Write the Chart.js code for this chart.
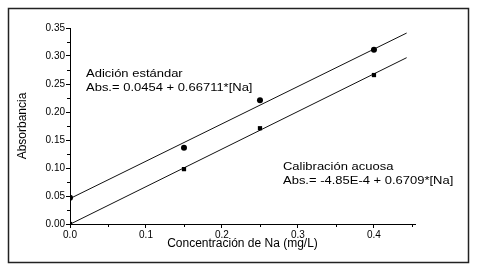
<!DOCTYPE html>
<html>
<head>
<meta charset="utf-8">
<script src="https://cdn.jsdelivr.net/npm/chart.js@4.4.1/dist/chart.umd.min.js"></script>
<style>
  html, body { margin: 0; padding: 0; background: #fff; }
  #wrap { width: 487px; height: 270px; position: relative; }
</style>
</head>
<body>
<div id="wrap"><canvas id="grafico"></canvas></div>
<script>
// puntos medidos
const concAdicion = [0, 0.15, 0.25, 0.4];
const absAdicion = [0.047, 0.136, 0.221, 0.311];
const concAcuosa = [0, 0.15, 0.25, 0.4];
const absAcuosa = [0.0, 0.098, 0.171, 0.266];

// rectas de ajuste (extremos)
const concAjuste = [0, 0.443];
const ajusteAdicion = [0.0454, 0.341];
const ajusteAcuosa = [-0.0005, 0.297];

const textoAdicion = ['Adición estándar', 'Abs.= 0.0454 + 0.66711*[Na]'];
const textoAcuosa = ['Calibración acuosa', 'Abs.= -4.85E-4 + 0.6709*[Na]'];

const fuente = "'Liberation Sans', Arial, sans-serif";

function puntos(xs, ys) {
    return xs.map((x, i) => ({ x: x, y: ys[i] }));
}

// marco exterior, ticks menores y textos de las ecuaciones
const pluginExtras = {
    id: 'extras',
    afterDraw(chart) {
        const ctx = chart.ctx;
        const sx = chart.scales.x;
        const sy = chart.scales.y;
        ctx.save();
        ctx.strokeStyle = '#000';
        ctx.lineWidth = 1;
        // ticks menores
        ctx.beginPath();
        for (let v = 0.05; v < 0.45; v += 0.1) {
            const px = Math.round(sx.getPixelForValue(v)) + 0.5;
            ctx.moveTo(px, sy.bottom);
            ctx.lineTo(px, sy.bottom + 3);
        }
        for (let v = 0.025; v < 0.35; v += 0.05) {
            const py = Math.round(sy.getPixelForValue(v)) + 0.5;
            ctx.moveTo(sx.left, py);
            ctx.lineTo(sx.left - 3, py);
        }
        ctx.stroke();
        // marco
        ctx.lineWidth = 1.5;
        ctx.strokeStyle = '#222';
        ctx.strokeRect(8.5, 8.5, 460, 254);
        // textos
        ctx.fillStyle = '#000';
        ctx.font = '11px ' + fuente;
        ctx.textBaseline = 'middle';
        const escribir = (lineas, x, y) => {
            lineas.forEach((t, i) => {
                ctx.save();
                ctx.translate(x, y + i * 14);
                ctx.scale(1.18, 1);
                ctx.fillText(t, 0, 0);
                ctx.restore();
            });
        };
        escribir(textoAdicion, 86, 74);
        escribir(textoAcuosa, 283, 167);
        ctx.restore();
    }
};

new Chart(document.getElementById('grafico'), {
    type: 'scatter',
    data: {
        datasets: [
            {
                label: 'Adición estándar',
                data: puntos(concAdicion, absAdicion),
                pointStyle: 'circle',
                pointRadius: 3,
                backgroundColor: '#000',
                borderColor: '#000',
                borderWidth: 0
            },
            {
                label: 'Calibración acuosa',
                data: puntos(concAcuosa, absAcuosa),
                pointStyle: 'rect',
                pointRadius: 3,
                backgroundColor: '#000',
                borderColor: '#000',
                borderWidth: 0
            },
            {
                label: 'Ajuste adición',
                type: 'line',
                data: puntos(concAjuste, ajusteAdicion),
                borderColor: '#111',
                borderWidth: 1,
                pointRadius: 0,
                fill: false
            },
            {
                label: 'Ajuste acuosa',
                type: 'line',
                data: puntos(concAjuste, ajusteAcuosa),
                borderColor: '#111',
                borderWidth: 1,
                pointRadius: 0,
                fill: false
            }
        ]
    },
    options: {
        responsive: true,
        maintainAspectRatio: false,
        animation: false,
        layout: { padding: { left: 0, right: 72, top: 28, bottom: 0 } },
        plugins: {
            legend: { display: false },
            tooltip: { enabled: false }
        },
        scales: {
            x: {
                type: 'linear',
                min: 0,
                max: 0.454,
                afterFit: (scale) => { scale.height = 46; },
                grid: { drawOnChartArea: false, drawTicks: true, tickLength: 4, color: '#000' },
                border: { display: true, color: '#000', width: 1 },
                ticks: {
                    stepSize: 0.1,
                    includeBounds: false,
                    padding: 1,
                    maxRotation: 0,
                    color: '#000',
                    font: { family: fuente, size: 10 },
                    callback: (v) => Number(v).toFixed(1)
                },
                title: {
                    display: true,
                    text: 'Concentración de Na (mg/L)',
                    color: '#000',
                    font: { family: fuente, size: 12 },
                    padding: { top: 0, bottom: 19 }
                }
            },
            y: {
                type: 'linear',
                min: 0,
                max: 0.35,
                afterFit: (scale) => { scale.width = 70; },
                grid: { drawOnChartArea: false, drawTicks: true, tickLength: 4, color: '#000' },
                border: { display: true, color: '#000', width: 1 },
                ticks: {
                    stepSize: 0.05,
                    padding: 1,
                    color: '#000',
                    font: { family: fuente, size: 10 },
                    callback: (v) => Number(v).toFixed(2)
                },
                title: {
                    display: true,
                    text: 'Absorbancia',
                    color: '#000',
                    font: { family: fuente, size: 12 },
                    padding: { top: 15, bottom: 0 }
                }
            }
        }
    },
    plugins: [pluginExtras]
});
</script>
</body>
</html>
